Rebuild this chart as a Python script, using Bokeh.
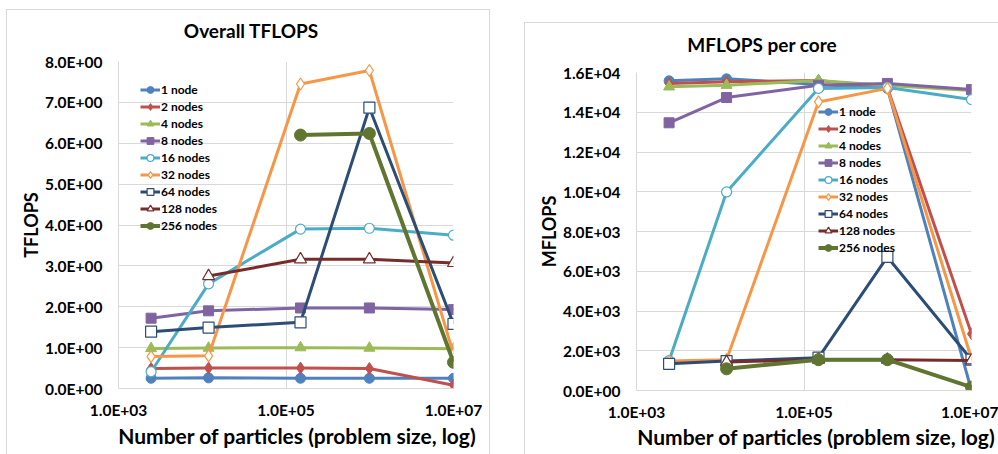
from bokeh.plotting import figure
from bokeh.models import Range1d, FixedTicker, Legend, LegendItem, Spacer, Div
from bokeh.layouts import row, column
from bokeh.embed import file_html
from bokeh.resources import INLINE

nan = float("nan")

# Problem sizes (number of particles) on the log x axis
particles = [2450, 11900, 149000, 990000, 10000000]

series_names = ["1 node", "2 nodes", "4 nodes", "8 nodes", "16 nodes",
                "32 nodes", "64 nodes", "128 nodes", "256 nodes"]

# Overall TFLOPS per node count
tflops_1 = [0.25, 0.26, 0.25, 0.25, 0.25]
tflops_2 = [0.49, 0.50, 0.50, 0.49, 0.08]
tflops_4 = [0.98, 0.99, 1.00, 0.99, 0.97]
tflops_8 = [1.72, 1.90, 1.97, 1.97, 1.93]
tflops_16 = [0.41, 2.56, 3.90, 3.92, 3.75]
tflops_32 = [0.78, 0.80, 7.45, 7.78, 0.84]
tflops_64 = [1.39, 1.49, 1.62, 6.87, 1.58]
tflops_128 = [nan, 2.75, 3.16, 3.16, 3.07]
tflops_256 = [nan, nan, 6.20, 6.24, 0.64]

# MFLOPS per core per node count
mflops_1 = [15580, 15680, 15400, 15200, 0]
mflops_2 = [15450, 15530, 15600, 15250, 2850]
mflops_4 = [15280, 15360, 15600, 15350, 15100]
mflops_8 = [13470, 14740, 15360, 15450, 15140]
mflops_16 = [1500, 9990, 15200, 15250, 14640]
mflops_32 = [1480, 1550, 14520, 15200, 1600]
mflops_64 = [1340, 1480, 1650, 6720, 1550]
mflops_128 = [nan, 1430, 1550, 1550, 1510]
mflops_256 = [nan, 1090, 1550, 1550, 170]

tflops_series = [tflops_1, tflops_2, tflops_4, tflops_8, tflops_16,
                 tflops_32, tflops_64, tflops_128, tflops_256]
mflops_series = [mflops_1, mflops_2, mflops_4, mflops_8, mflops_16,
                 mflops_32, mflops_64, mflops_128, mflops_256]

x_ticks = [1e3, 1e5, 1e7]
tflops_ticks = [0, 1, 2, 3, 4, 5, 6, 7, 8]
mflops_ticks = [0, 2000, 4000, 6000, 8000, 10000, 12000, 14000, 16000]

# line colour, marker, hollow?, marker size, line width
STYLES = [
    ("#4F81BD", "circle", False, 10, 3),
    ("#C0504D", "diamond", False, 12, 3),
    ("#9BBB59", "triangle", False, 11, 3),
    ("#8064A2", "square", False, 10, 3),
    ("#4BACC6", "circle", True, 10, 3),
    ("#F79646", "diamond", True, 12, 3),
    ("#2C4D75", "square", True, 11, 3),
    ("#772C2A", "triangle", True, 12, 3),
    ("#5F7530", "circle", False, 12, 4),
]

FONT = "Lato"
GRID = "#d9d9d9"
X_LABEL = "Number of particles (problem size, log)"


def sci(v):
    return "%.1E" % v


def heading(text, width, height, size, pad_top, pad_left, line_h):
    html = ('<div style="box-sizing:border-box;width:%dpx;margin:0;'
            'padding-top:%dpx;padding-left:%dpx;line-height:%dpx;'
            'text-align:center;font-family:Lato;font-weight:bold;font-size:%s;'
            'color:#000000;white-space:nowrap">%s</div>'
            % (width, pad_top, pad_left, line_h, size, text))
    return Div(text=html, width=width, height=height, margin=0)


def make_figure(ylabel, series, yticks, ymax, frame_h, right_border, legend_xy):
    p = figure(x_axis_type="log", x_range=Range1d(1e3, 1e7),
               y_range=Range1d(0, ymax), title=None,
               frame_width=335, frame_height=frame_h,
               min_border_left=111, min_border_right=right_border,
               min_border_top=12, min_border_bottom=36,
               output_backend="svg", toolbar_location=None)

    p.outline_line_color = None
    p.background_fill_color = "white"
    p.border_fill_color = "white"

    p.xaxis.ticker = FixedTicker(ticks=x_ticks)
    p.xaxis.major_label_overrides = {t: sci(t) for t in x_ticks}
    p.yaxis.ticker = FixedTicker(ticks=yticks)
    p.yaxis.major_label_overrides = {t: sci(t) for t in yticks}

    for ax in (p.xaxis, p.yaxis):
        ax.axis_line_color = GRID
        ax.major_tick_line_color = None
        ax.minor_tick_line_color = None
        ax.major_tick_out = 0
        ax.major_label_text_font = FONT
        ax.major_label_text_font_style = "bold"
        ax.major_label_text_font_size = "15.5px"
        ax.major_label_text_color = "#000000"
    p.xaxis.major_label_standoff = 12
    p.yaxis.major_label_standoff = 16
    p.yaxis.axis_label = ylabel
    p.yaxis.axis_label_standoff = 0
    p.yaxis.axis_label_text_font = FONT
    p.yaxis.axis_label_text_font_style = "bold"
    p.yaxis.axis_label_text_font_size = "18px"
    p.yaxis.axis_label_text_color = "#000000"

    p.xgrid.grid_line_color = GRID
    p.ygrid.grid_line_color = GRID
    p.xgrid.minor_grid_line_color = None

    items = []
    for name, ys, (color, marker, hollow, size, lw) in zip(series_names, series, STYLES):
        ln = p.line(particles, ys, line_color=color, line_width=lw)
        sc = p.scatter(particles, ys, marker=marker, size=size,
                       line_color=color, line_width=1.2 if hollow else 1,
                       fill_color="white" if hollow else color)
        items.append(LegendItem(label=name, renderers=[ln, sc]))

    legend = Legend(items=items, location=legend_xy)
    legend.background_fill_alpha = 0
    legend.border_line_color = None
    legend.padding = 0
    legend.margin = 0
    legend.spacing = 0
    legend.glyph_width = 20
    legend.glyph_height = 17
    legend.label_height = 17
    legend.label_standoff = 1
    legend.label_text_font = FONT
    legend.label_text_font_style = "bold"
    legend.label_text_font_size = "12px"
    legend.label_text_color = "#000000"
    p.add_layout(legend, "center")
    return p


# left chart: overall throughput
p_total = make_figure("TFLOPS", tflops_series, tflops_ticks, 8, 327, 36, (22, 154))
left_chart = column(
    heading("Overall TFLOPS", 482, 39, "19px", 10, 6, 22),
    p_total,
    heading(X_LABEL, 482, 30, "21px", 0, 98, 24),
    styles={"border-top": "1px solid #d9d9d9", "border-left": "1px solid #d9d9d9",
            "border-right": "1px solid #d9d9d9"},
)

# right chart: per-core rate
p_core = make_figure("MFLOPS", mflops_series, mflops_ticks, 16000, 318, 27, (182, 134))
right_chart = column(
    heading("MFLOPS per core", 473, 37, "19px", 11, 1, 22),
    p_core,
    heading(X_LABEL, 473, 28, "21px", 0, 109, 22),
    styles={"border-top": "1px solid #d9d9d9", "border-left": "1px solid #d9d9d9"},
)

layout = row(Spacer(width=6),
             column(Spacer(height=9), left_chart),
             Spacer(width=34),
             column(Spacer(height=22), right_chart))

open("out.html", "w").write(file_html(layout, INLINE))
